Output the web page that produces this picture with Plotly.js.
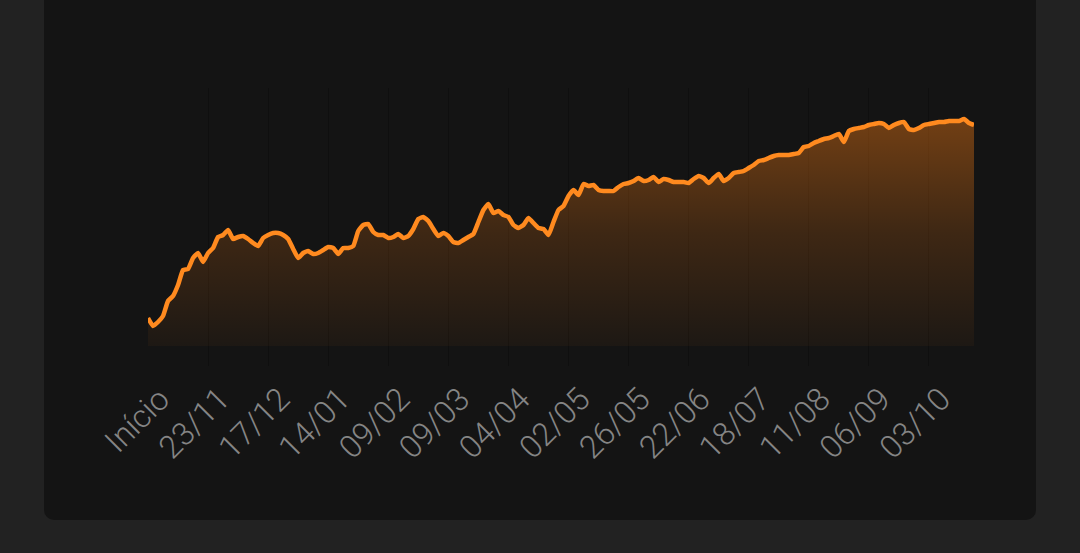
<!DOCTYPE html>
<html>
<head>
<meta charset="utf-8">
<script src="https://cdn.plot.ly/plotly-3.0.1.min.js"></script>
<style>
  html, body { margin:0; padding:0; background:#222222; width:1080px; height:553px; overflow:hidden; }
  #card { position:absolute; left:44px; top:-20px; width:992px; height:540px; background:#141414; border-radius:10px; }
  #chart { position:absolute; left:0; top:0; width:1080px; height:553px; }
</style>
</head>
<body>
<div id="card"></div>
<div id="chart"></div>
<script>
// Series values (one point per step)
const values = [
  28,20,24,30,45,50,61,76,77,88,93,84,93,98,109,111,116,107,109,110,
  107,103,100,108,111,113,113,111,107,97,88,93,95,92,93,96,99,98,92,98,
  98,100,115,121,122,114,111,111,108,109,112,108,110,117,127,129,125,117,110,113,
  110,104,103,106,109,112,124,136,142,133,135,131,129,121,118,121,128,123,118,117,
  111,124,136,140,150,156,151,162,160,161,156,155,155,155,159,162,163,165,168,165,
  166,169,164,167,166,164,164,164,163,167,170,168,163,168,172,165,168,173,174,175,
  178,181,185,186,188,190,191,191,191,192,193,199,200,203,205,207,208,210,212,204,
  215,217,218,219,221,222,223,222,218,221,223,224,217,216,218,221,222,223,224,224,
  225,225,225,227,223,221
];
const steps = values.map((v, i) => i);
const tickPositions = [0,12,24,36,48,60,72,84,96,108,120,132,144,156];
const tickLabels = ["Início","23/11","17/12","14/01","09/02","09/03","04/04","02/05","26/05","22/06","18/07","11/08","06/09","03/10"];

const trace = {
  x: steps,
  y: values,
  type: 'scatter',
  mode: 'lines',
  line: { color: '#ff8a1f', width: 4.5, shape: 'spline', smoothing: 0.4 },
  fill: 'tozeroy',
  fillgradient: {
    type: 'vertical',
    start: 0,
    stop: Math.max(...values),
    colorscale: [[0, 'rgba(255,128,20,0.04)'], [0.5, 'rgba(255,128,20,0.18)'], [1, 'rgba(255,128,20,0.40)']]
  },
  hoverinfo: 'skip'
};

const layout = {
  width: 1080,
  height: 553,
  margin: { l: 148, r: 106, t: 88, b: 187 },
  paper_bgcolor: 'rgba(0,0,0,0)',
  plot_bgcolor: 'rgba(0,0,0,0)',
  showlegend: false,
  xaxis: {
    range: [0, 165],
    tickmode: 'array',
    tickvals: tickPositions,
    ticktext: tickLabels,
    tickangle: -45,
    showgrid: true,
    gridcolor: 'rgba(0,0,0,0.22)',
    gridwidth: 1,
    zeroline: false,
    showline: false,
    ticks: '',
    ticklabelshift: 12,
    ticklabelstandoff: 7,
    tickfont: { family: 'Roboto, sans-serif', size: 32, weight: 300, color: '#858585' },
    fixedrange: true
  },
  yaxis: {
    range: [-20, 258],
    showgrid: false,
    zeroline: false,
    showline: false,
    showticklabels: false,
    ticks: '',
    fixedrange: true
  }
};

Plotly.newPlot('chart', [trace], layout, { displayModeBar: false, staticPlot: true });
</script>
</body>
</html>
